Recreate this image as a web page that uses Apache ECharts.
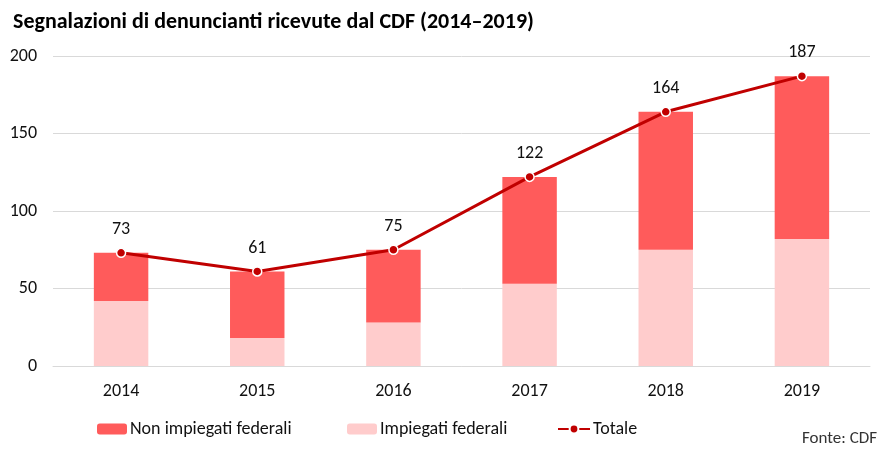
<!DOCTYPE html>
<html><head><meta charset="utf-8">
<script src="https://cdn.jsdelivr.net/npm/echarts@6/dist/echarts.min.js"></script>
<style>html,body{margin:0;padding:0;background:#fff}#c{width:889px;height:453px}</style>
</head><body><div id="c"></div>
<script>
const years = ['2014','2015','2016','2017','2018','2019'];
const federali = [42, 18, 28, 53, 75, 82];
const nonFederali = [31, 43, 47, 69, 89, 105];
const totale = [73, 61, 75, 122, 164, 187];
const yTicks = [0, 50, 100, 150, 200];

const FONT = 'Carlito, "Liberation Sans Narrow", "Open Sans", "Noto Sans", sans-serif';
const chart = echarts.init(document.getElementById('c'));
const legText = { fontFamily: FONT, fontSize: 18, color: '#111', padding: [0,0,0,-2] };
chart.setOption({
  animation: false,
  textStyle: { fontFamily: FONT },
  title: {
    text: 'Segnalazioni di denuncianti ricevute dal CDF (2014–2019)',
    left: 8, top: 6,
    textStyle: { fontFamily: FONT, fontSize: 22, fontWeight: 'bold', color: '#000' }
  },
  grid: { left: 53, right: 19, top: 56, bottom: 87 },
  legend: [
    { data: ['Non impiegati federali'], left: 97, top: 420, padding: 0, itemWidth: 30, itemHeight: 11, textStyle: legText },
    { data: ['Impiegati federali'], left: 347, top: 420, padding: 0, itemWidth: 30, itemHeight: 11, textStyle: legText },
    { data: ['Totale'], left: 557, top: 420, padding: 0, itemWidth: 32, itemHeight: 11, textStyle: legText }
  ],
  graphic: [{
    type: 'text', left: 802, top: 430,
    style: { text: 'Fonte: CDF', font: '17px ' + FONT, fill: '#333' }
  }],
  xAxis: {
    type: 'category', data: years,
    axisLine: { lineStyle: { color: '#d9d9d9' } },
    axisTick: { show: false },
    axisLabel: { color: '#111', fontSize: 18, margin: 16, fontFamily: FONT }
  },
  yAxis: {
    type: 'value', min: yTicks[0], max: yTicks[yTicks.length - 1], interval: 50,
    axisLine: { show: false }, axisTick: { show: false },
    axisLabel: { color: '#111', fontSize: 18, margin: 16, fontFamily: FONT },
    splitLine: { lineStyle: { color: '#d9d9d9' } }
  },
  series: [
    { name: 'Impiegati federali', type: 'bar', stack: 'a', data: federali, barWidth: '40%',
      itemStyle: { color: '#FFCCCC' } },
    { name: 'Non impiegati federali', type: 'bar', stack: 'a', data: nonFederali, barWidth: '40%',
      itemStyle: { color: '#FF5B5B' } },
    { name: 'Totale', type: 'line', data: totale, symbol: 'circle', symbolSize: 9,
      lineStyle: { color: '#C00000', width: 3 },
      itemStyle: { color: '#C00000', borderColor: '#fff', borderWidth: 1.5 },
      label: { show: true, position: 'top', distance: 9, color: '#111', fontSize: 18, fontFamily: FONT },
      z: 5 }
  ]
});
</script></body></html>
